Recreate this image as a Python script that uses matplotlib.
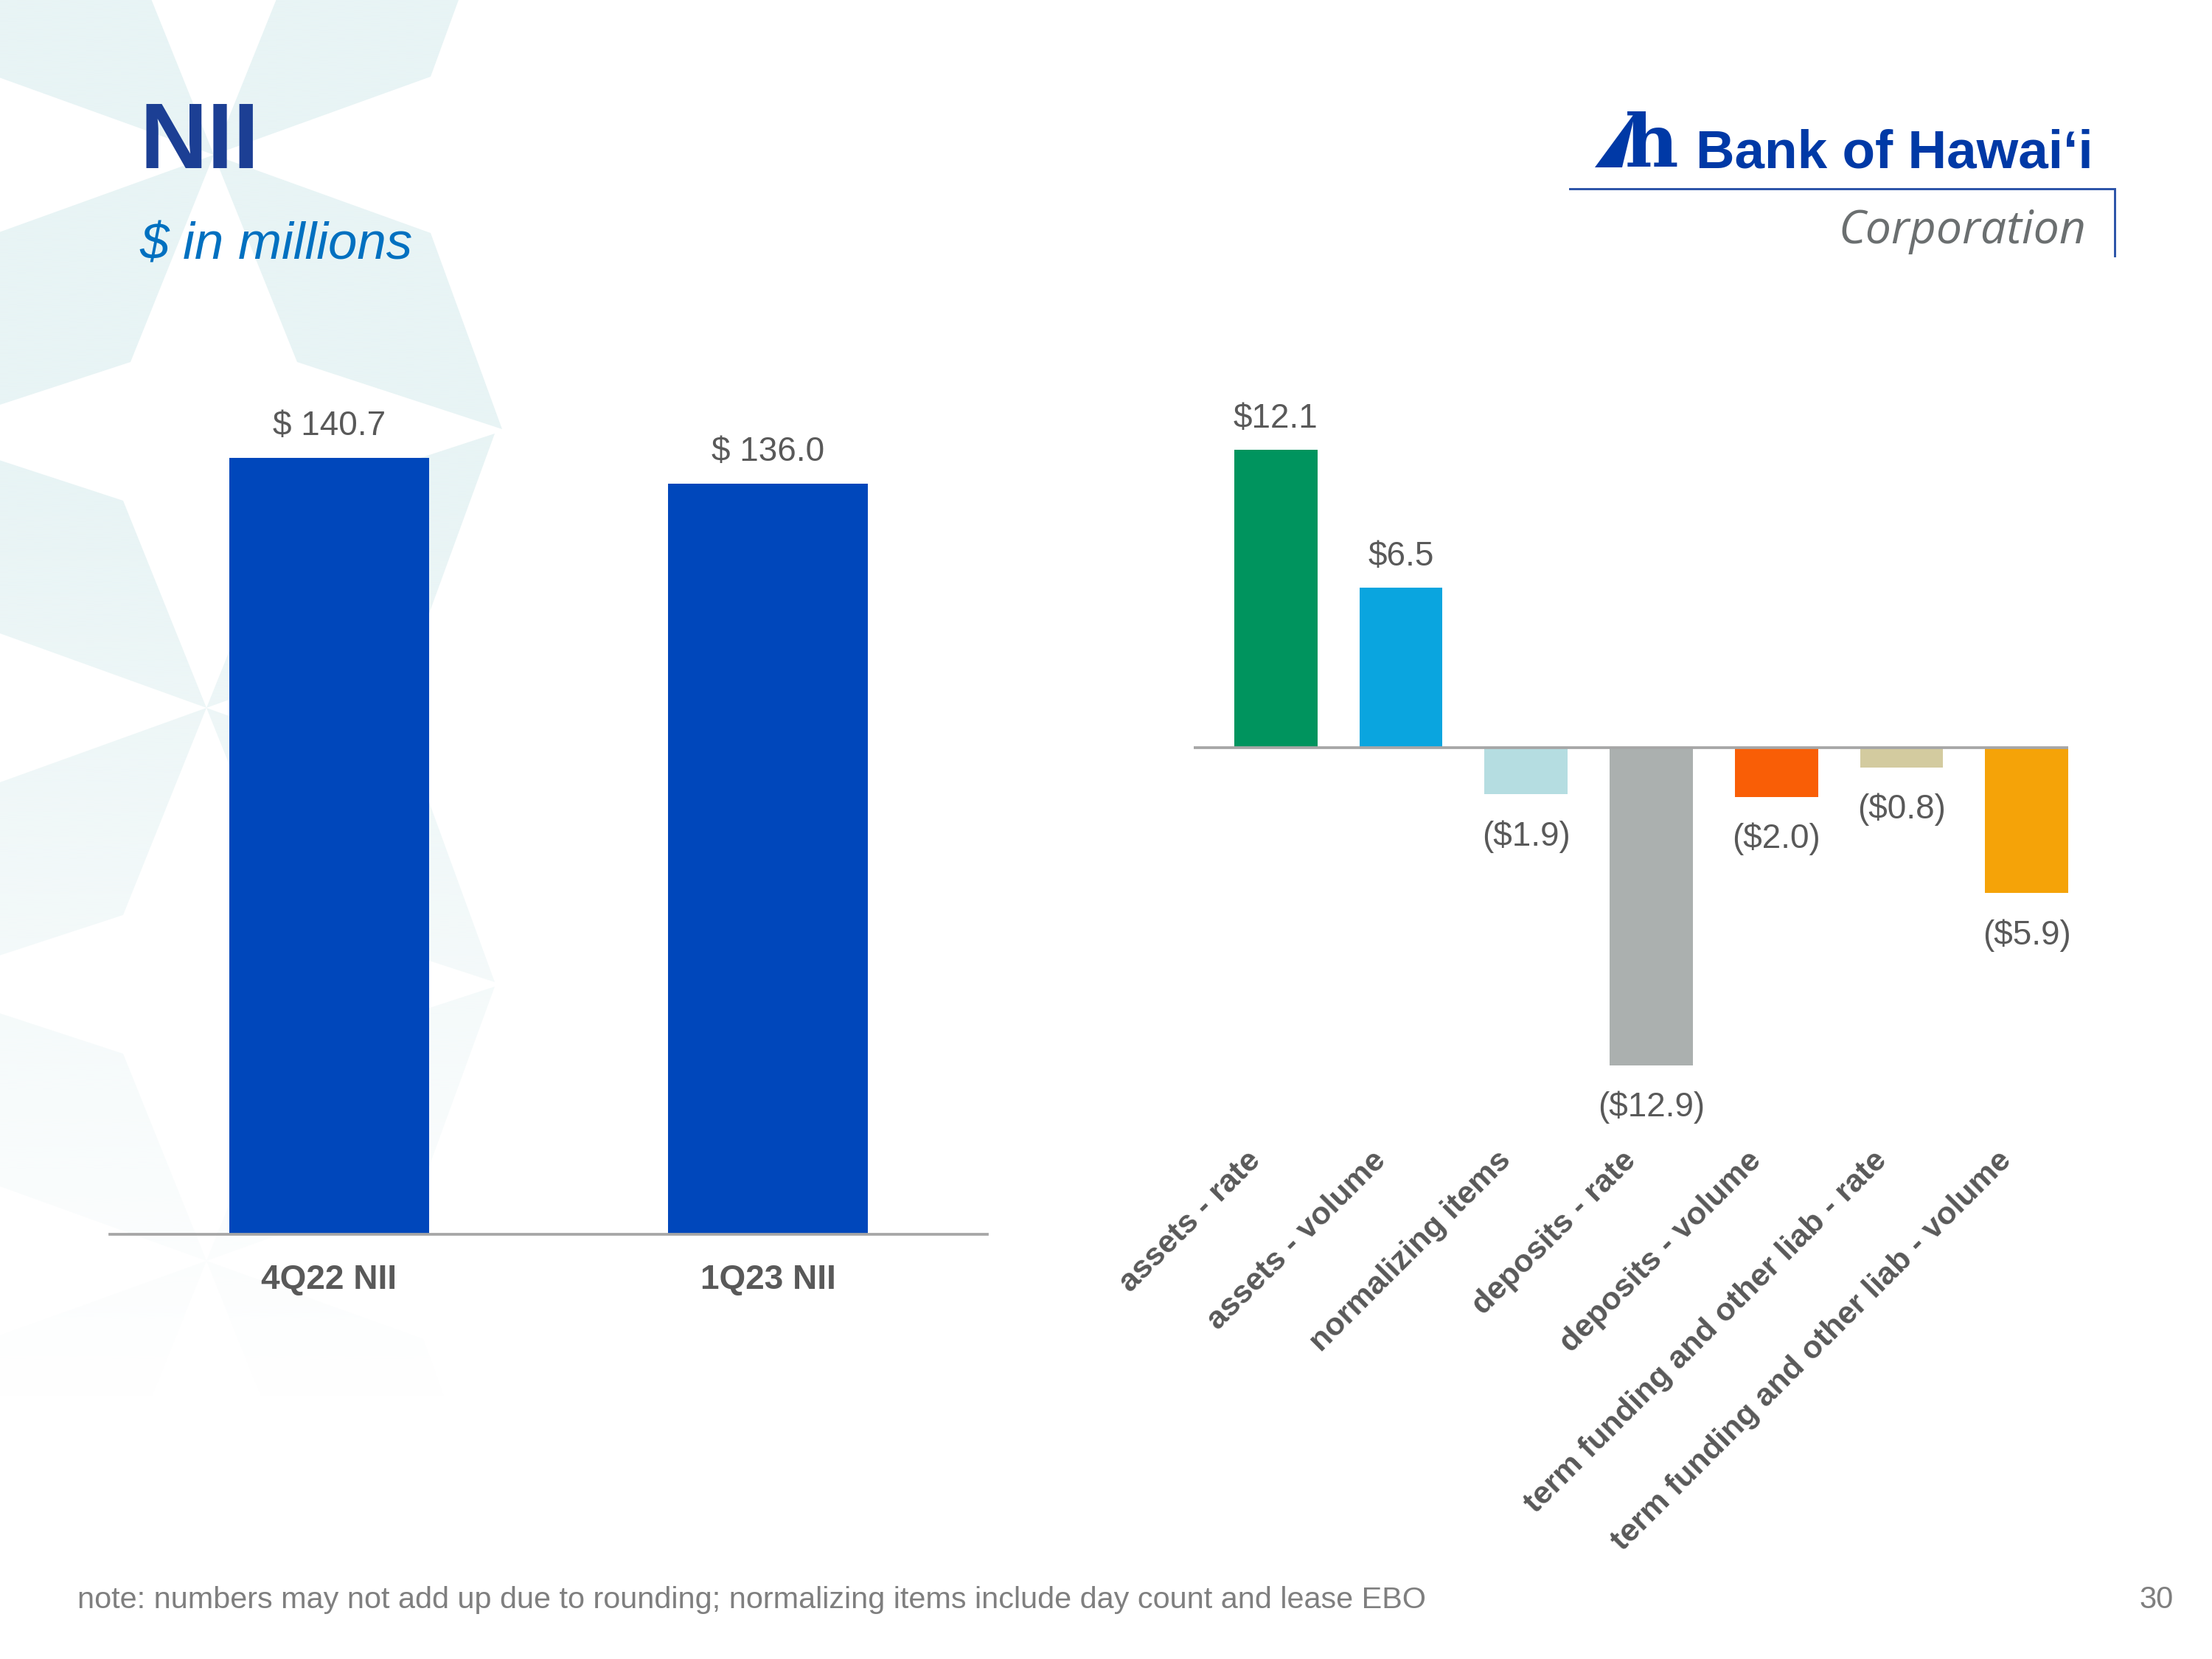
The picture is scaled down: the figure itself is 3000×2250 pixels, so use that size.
import matplotlib
matplotlib.use('Agg')
import matplotlib.pyplot as plt
import numpy as np
from matplotlib.patches import Polygon
from matplotlib.transforms import blended_transform_factory
from matplotlib.colors import to_rgb

# ---------------- data ----------------
periods = ['4Q22 NII', '1Q23 NII']
nii_values = [140.7, 136.0]

drivers = ['assets - rate', 'assets - volume', 'normalizing items',
           'deposits - rate', 'deposits - volume',
           'term funding and other liab - rate',
           'term funding and other liab - volume']
driver_values = [12.1, 6.5, -1.9, -12.9, -2.0, -0.8, -5.9]
driver_colors = ['#00945E', '#0AA5DF', '#B5DDE1', '#ABB0AF',
                 '#F95E06', '#D3CB9F', '#F5A308']

title = 'NII'
subtitle = '$ in millions'
note = ('note: numbers may not add up due to rounding; normalizing items '
        'include day count and lease EBO')
page_no = '30'

W, H = 3000, 2250
plt.rcParams['font.family'] = ['Liberation Sans', 'DejaVu Sans']

fig = plt.figure(figsize=(10, 7.5), dpi=300)
fig.patch.set_facecolor('white')

# ---------------- background decoration ----------------
bg = fig.add_axes([0, 0, 1, 1], zorder=-10)
bg.set_xlim(0, W)
bg.set_ylim(H, 0)
bg.axis('off')

grad_rows = 400
ys = np.linspace(0, H, grad_rows)
alpha = np.clip(1 - (ys - 650) / 1250.0, 0, 1)
rgb = to_rgb('#E8F4F5')
img = np.zeros((grad_rows, 1, 4))
img[..., 0, 0] = rgb[0]
img[..., 0, 1] = rgb[1]
img[..., 0, 2] = rgb[2]
img[:, 0, 3] = alpha

arm = np.array([(0, 0), (294, 106), (391, 372), (113, 281)], dtype=float)
centers = [(290, 210), (280, 960), (280, 1710)]
for cx, cy in centers:
    for sx in (-1, 1):
        for sy in (-1, 1):
            pts = arm * np.array([sx, sy]) + np.array([cx, cy])
            poly = Polygon(pts, closed=True, transform=bg.transData,
                           facecolor='none', edgecolor='none')
            bg.add_patch(poly)
            im = bg.imshow(img, extent=[0, W, H, 0], aspect='auto',
                           interpolation='bilinear', zorder=0)
            im.set_clip_path(poly)

# ---------------- left chart ----------------
ax1 = fig.add_axes([149 / W, 1 - 1674 / H, (1339 - 149) / W, (1674 - 551) / H])
ax1.patch.set_alpha(0)
x1 = np.arange(len(periods))
ax1.bar(x1, nii_values, width=0.454, color='#0047BB', zorder=2)
ax1.set_xlim(-0.5, 1.5)
ax1.set_ylim(0, 150)
for s in ['top', 'right', 'left']:
    ax1.spines[s].set_visible(False)
ax1.spines['bottom'].set_color('#A6A6A6')
ax1.spines['bottom'].set_linewidth(0.9)
ax1.set_yticks([])
ax1.set_xticks(x1)
ax1.set_xticklabels(periods, fontsize=11, fontweight='bold', color='#595959')
ax1.tick_params(axis='x', length=0, pad=9.5)
for xi, v in zip(x1, nii_values):
    ax1.annotate(f'$ {v:.1f}', (xi, v), xytext=(0, 7.4), textcoords='offset points',
                 ha='center', va='baseline', fontsize=11, color='#595959')

# ---------------- right chart ----------------
ax2 = fig.add_axes([1619 / W, 1 - 1548 / H, (2805 - 1619) / W, (1548 - 513) / H])
ax2.patch.set_alpha(0)
x2 = np.arange(len(drivers))
ax2.bar(x2, driver_values, width=0.664, color=driver_colors, zorder=2)
ax2.axhline(0, color='#A6A6A6', lw=0.9, zorder=3)
ax2.set_xlim(-0.656, 6.332)
ax2.set_ylim(-16, 15)
ax2.axis('off')
for xi, v in zip(x2, driver_values):
    if v >= 0:
        ax2.annotate(f'${v:.1f}', (xi, v), xytext=(0, 7.2), textcoords='offset points',
                     ha='center', va='baseline', fontsize=11, color='#595959')
    else:
        ax2.annotate(f'(${-v:.1f})', (xi, v), xytext=(0, -8.5), textcoords='offset points',
                     ha='center', va='top', fontsize=11, color='#595959')

lab_tr = blended_transform_factory(ax2.transData, ax2.transAxes)
for xi, lab in zip(x2, drivers):
    ax2.text(xi - 0.155, -0.019, lab, transform=lab_tr, rotation=45,
             rotation_mode='anchor', ha='right', va='center',
             fontsize=10.4, fontweight='bold', color='#595959', clip_on=False)

# ---------------- titles ----------------
fig.text(189 / W, 1 - 228 / H, title, fontsize=30.5, fontweight='bold',
         color='#1C3F94', va='baseline', ha='left')
fig.text(189 / W, 1 - 351 / H, subtitle, fontsize=17, style='italic',
         color='#0070C0', va='baseline', ha='left')

# ---------------- logo ----------------
sail = Polygon([(2163, 227), (2200, 227), (2218, 152)], closed=True,
               facecolor='#0039A6', edgecolor='none', transform=bg.transData)
bg.add_patch(sail)
fig.text(2204 / W, 1 - 227 / H, 'h', fontsize=24, fontweight='bold',
         family=['DejaVu Serif'], color='#0039A6', va='baseline', ha='left')
fig.text(2300 / W, 1 - 228 / H, 'Bank of Hawaiʻi', fontsize=17.5, fontweight='bold',
         color='#0039A6', va='baseline', ha='left',
         family=['Liberation Sans', 'DejaVu Sans'])
bg.plot([2129, 2868, 2868], [256, 256, 347], color='#2A52A8', lw=0.7,
        solid_joinstyle='miter')
fig.text(2829 / W, 1 - 330 / H, 'Corporation', fontsize=15, style='italic',
         color='#6B6F70', va='baseline', ha='right', family=['Open Sans'])

# ---------------- footer ----------------
fig.text(105 / W, 1 - 2181 / H, note, fontsize=9.95, color='#7F7F7F',
         va='baseline', ha='left')
fig.text(2948 / W, 1 - 2181 / H, page_no, fontsize=10, color='#7F7F7F',
         va='baseline', ha='right')

fig.savefig('out.png', dpi=300, facecolor='white')
